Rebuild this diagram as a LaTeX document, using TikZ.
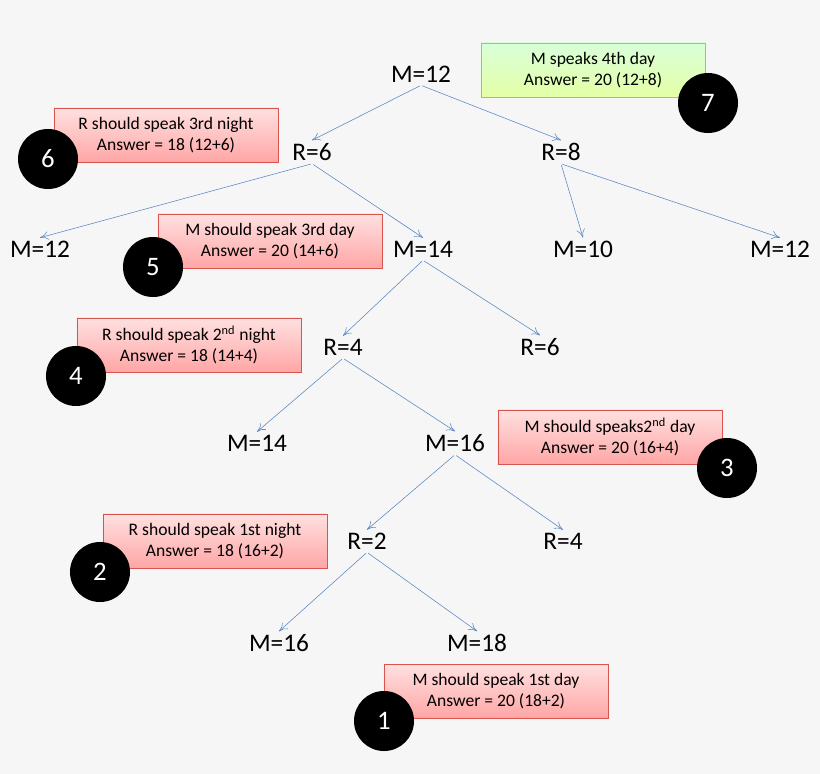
\documentclass[tikz,border=0pt]{standalone}
\usepackage{fontspec}
\setmainfont{Carlito}
\usetikzlibrary{arrows.meta}
\definecolor{bg}{HTML}{F6F6F6}
\definecolor{edgeblue}{HTML}{5B87C5}
\definecolor{boxred}{HTML}{D9534F}
\definecolor{boxgreen}{HTML}{9BC95B}
\tikzset{
  val/.style={font=\fontsize{18}{20}\selectfont, inner sep=2pt},
  note/.style={draw=boxred, top color=red!12, bottom color=red!35, minimum width=5.6cm, minimum height=1.35cm, align=center, font=\fontsize{12.5}{15}\selectfont},
  goodnote/.style={note, draw=boxgreen, top color=green!15!white, bottom color=green!30!yellow!35!white},
  order/.style={circle, fill=black, minimum size=1.5cm, text=white, font=\fontsize{19}{20}\selectfont},
  edge/.style={draw=edgeblue, -{To[length=6pt,width=6pt]}, shorten <=1pt}
}
\begin{document}
\begin{tikzpicture}[x=0.025cm, y=-0.025cm]
    \fill[bg] (0,0) rectangle (820,774);

    % values
    \node[val] (m0) at (421,74) {M=12};
    \node[val] (r1) at (312,152) {R=6};
    \node[val] (r2) at (561,152) {R=8};
    \node[val] (m1) at (40,249) {M=12};
    \node[val] (m2) at (423,249) {M=14};
    \node[val] (m3) at (583,249) {M=10};
    \node[val] (m4) at (780,249) {M=12};
    \node[val] (r3) at (343,347) {R=4};
    \node[val] (r4) at (540,347) {R=6};
    \node[val] (m5) at (257,443) {M=14};
    \node[val] (m6) at (455,443) {M=16};
    \node[val] (r5) at (367,541) {R=2};
    \node[val] (r6) at (563,541) {R=4};
    \node[val] (m7) at (279,643) {M=16};
    \node[val] (m8) at (477,643) {M=18};

    % edges
    \draw[edge] (m0.south) -- (r1.north);
    \draw[edge] (m0.south) -- (r2.north);
    \draw[edge] (r1.south) -- (m1.north);
    \draw[edge] (r1.south) -- (m2.north);
    \draw[edge] (r2.south) -- (m3.north);
    \draw[edge] (r2.south) -- (m4.north);
    \draw[edge] (m2.south) -- (r3.north);
    \draw[edge] (m2.south) -- (r4.north);
    \draw[edge] (r3.south) -- (m5.north);
    \draw[edge] (r3.south) -- (m6.north);
    \draw[edge] (m6.south) -- (r5.north);
    \draw[edge] (m6.south) -- (r6.north);
    \draw[edge] (r5.south) -- (m7.north);
    \draw[edge] (r5.south) -- (m8.north);

    % notes
    \node[goodnote] (n7) at (593,70) {M speaks 4th day\\Answer = 20 (12+8)};
    \node[note] (n6) at (166,135) {R should speak 3rd night\\Answer = 18 (12+6)};
    \node[note] (n5) at (270,241) {M should speak 3rd day\\Answer = 20 (14+6)};
    \node[note] (n4) at (189,345) {R should speak 2\textsuperscript{nd} night\\Answer = 18 (14+4)};
    \node[note] (n3) at (610,437) {M should speaks2\textsuperscript{nd} day\\Answer = 20 (16+4)};
    \node[note] (n2) at (215,541) {R should speak 1st night\\Answer = 18 (16+2)};
    \node[note] (n1) at (496,691) {M should speak 1st day\\Answer = 20 (18+2)};

    % order
    \node[order] (s7) at (708,103) {7};
    \node[order] (s6) at (48,159) {6};
    \node[order] (s5) at (153,267) {5};
    \node[order] (s4) at (76,376) {4};
    \node[order] (s3) at (727,468) {3};
    \node[order] (s2) at (100,572) {2};
    \node[order] (s1) at (384,721) {1};
\end{tikzpicture}
\end{document}
